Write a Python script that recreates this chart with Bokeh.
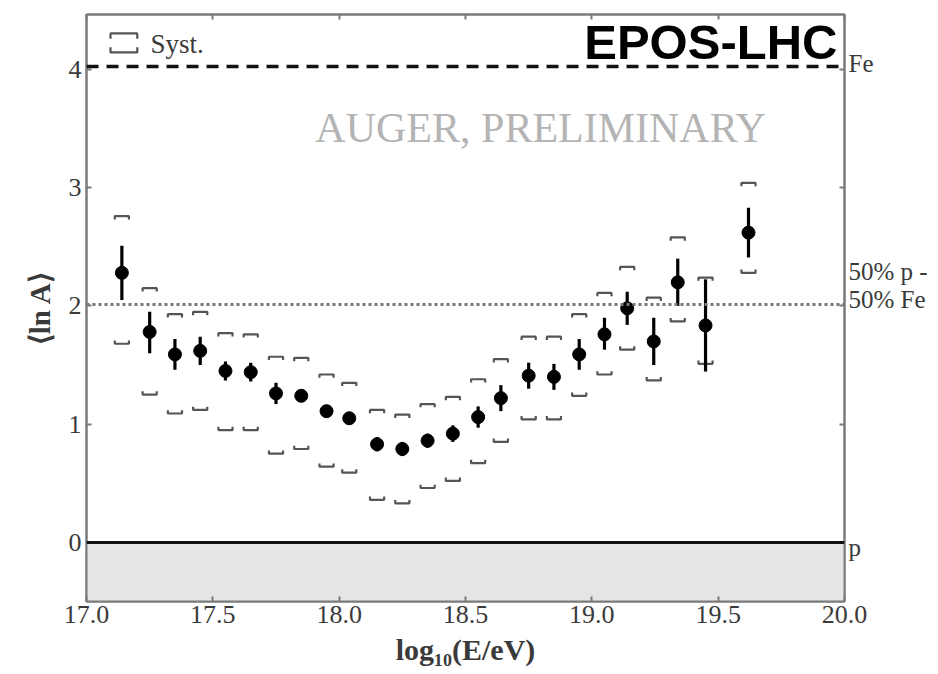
import numpy as np
from bokeh.plotting import figure
from bokeh.models import (Range1d, LinearAxis, FixedTicker, Span, BoxAnnotation,
                          Label, ColumnDataSource, NumeralTickFormatter,
                          CustomLabelingPolicy)
from bokeh.embed import file_html
from bokeh.resources import INLINE

# <ln A> vs energy, EPOS-LHC interpretation
log_e = [17.14, 17.25, 17.35, 17.45, 17.55, 17.65, 17.75, 17.85, 17.95, 18.04,
         18.15, 18.25, 18.35, 18.45, 18.55, 18.64, 18.75, 18.85, 18.95, 19.05,
         19.14, 19.245, 19.34, 19.45, 19.62]
ln_a = [2.28, 1.78, 1.59, 1.62, 1.45, 1.44, 1.26, 1.24, 1.11, 1.05,
        0.83, 0.79, 0.86, 0.92, 1.06, 1.22, 1.41, 1.40, 1.59, 1.76,
        1.98, 1.70, 2.20, 1.835, 2.62]
stat_plus = [0.23, 0.17, 0.13, 0.12, 0.08, 0.08, 0.09, 0.04, 0.04, 0.04,
             0.06, 0.06, 0.06, 0.07, 0.09, 0.11, 0.11, 0.11, 0.13, 0.14,
             0.14, 0.20, 0.20, 0.39, 0.21]
stat_minus = [0.23, 0.18, 0.13, 0.12, 0.08, 0.08, 0.09, 0.04, 0.04, 0.04,
              0.06, 0.06, 0.06, 0.07, 0.09, 0.11, 0.11, 0.11, 0.13, 0.13,
              0.14, 0.20, 0.20, 0.39, 0.21]
syst_hi = [2.76, 2.15, 1.93, 1.95, 1.77, 1.76, 1.57, 1.56, 1.42, 1.35,
           1.12, 1.08, 1.17, 1.23, 1.38, 1.55, 1.74, 1.74, 1.93, 2.11,
           2.33, 2.07, 2.58, 2.24, 3.04]
syst_lo = [1.68, 1.25, 1.09, 1.12, 0.95, 0.95, 0.75, 0.79, 0.64, 0.59,
           0.36, 0.33, 0.46, 0.52, 0.67, 0.85, 1.04, 1.04, 1.24, 1.42,
           1.63, 1.37, 1.87, 1.51, 2.28]

x_ticks = [17.0, 17.5, 18.0, 18.5, 19.0, 19.5, 20.0]
y_ticks = [0, 1, 2, 3, 4]

LN_A_P = 0.0
LN_A_FE = float(np.log(56))
LN_A_MIX = 0.5 * (LN_A_P + LN_A_FE)

# where the composition names sit along the right-hand axis
side_labels = {-0.04: "p", 2.056: "50% Fe", 2.288: "50% p -", 4.05: "Fe"}

SERIF = "Liberation Serif"
AXIS_GREY = "#7a7a7a"
TEXT_GREY = "#3a3a3a"

p = figure(width=938, height=674, output_backend="svg", toolbar_location=None,
           x_range=Range1d(17.0, 20.0), y_range=Range1d(-0.5, 4.465),
           min_border_left=86, min_border_right=94, min_border_top=14,
           min_border_bottom=73)
p.background_fill_color = "white"
p.border_fill_color = "white"
p.outline_line_color = AXIS_GREY
p.outline_line_width = 2
p.xgrid.visible = False
p.ygrid.visible = False

def style_axis(ax, labels=True):
    ax.axis_line_color = AXIS_GREY
    ax.axis_line_width = 2
    ax.major_tick_in = 5
    ax.major_tick_out = 0
    ax.major_tick_line_color = AXIS_GREY
    ax.major_tick_line_width = 2
    ax.minor_tick_line_color = None
    if labels:
        ax.major_label_text_font = SERIF
        ax.major_label_text_font_size = "26px"
        ax.major_label_text_color = TEXT_GREY
    else:
        ax.major_label_text_font_size = "0px"
        ax.major_label_standoff = 0
        ax.major_label_policy = CustomLabelingPolicy(code="return new Set()")

xa = p.xaxis[0]
style_axis(xa)
xa.ticker = FixedTicker(ticks=x_ticks)
xa.formatter = NumeralTickFormatter(format="0.0")
xa.major_label_standoff = 4
xa.axis_label = "log₁₀(E/eV)"
xa.axis_label_text_font = SERIF
xa.axis_label_text_font_style = "bold"
xa.axis_label_text_font_size = "30px"
xa.axis_label_text_color = TEXT_GREY
xa.axis_label_standoff = 7

ya = p.yaxis[0]
style_axis(ya)
ya.ticker = FixedTicker(ticks=y_ticks)
ya.major_label_standoff = 5
ya.axis_label = "⟨ln A⟩"
ya.axis_label_text_font = SERIF
ya.axis_label_text_font_style = "bold"
ya.axis_label_text_font_size = "29px"
ya.axis_label_text_color = TEXT_GREY
ya.axis_label_standoff = 10

top = LinearAxis(ticker=FixedTicker(ticks=x_ticks))
style_axis(top, labels=False)
p.add_layout(top, "above")

# right axis: integer ticks drawn as minor ticks, composition names as labels
right = LinearAxis(ticker=FixedTicker(ticks=list(side_labels.keys()),
                                      minor_ticks=y_ticks))
right.axis_line_color = AXIS_GREY
right.axis_line_width = 2
right.major_tick_line_color = None
right.major_tick_in = 0
right.major_tick_out = 0
right.minor_tick_in = 5
right.minor_tick_out = 0
right.minor_tick_line_color = AXIS_GREY
right.minor_tick_line_width = 2
right.major_label_overrides = side_labels
right.major_label_standoff = 4
right.major_label_text_font = SERIF
right.major_label_text_font_size = "25px"
right.major_label_text_color = TEXT_GREY
p.add_layout(right, "right")

# unphysical region below pure protons
p.add_layout(BoxAnnotation(top=LN_A_P, fill_color="#e5e5e5", fill_alpha=1.0,
                           line_color=None, level="underlay"))
p.add_layout(Span(location=LN_A_P, dimension="width", line_color="#111111",
                  line_width=3))
p.add_layout(Span(location=LN_A_FE, dimension="width", line_color="#111111",
                  line_width=3.5, line_dash="12 8"))
p.add_layout(Span(location=LN_A_MIX, dimension="width", line_color="#777777",
                  line_width=3, line_dash="3 3"))

# systematic brackets
hw, th = 0.028, 0.028
bx, by = [], []
for xv, hi, lo in zip(log_e, syst_hi, syst_lo):
    bx.append([xv - hw, xv - hw, xv + hw, xv + hw])
    by.append([hi - th, hi, hi, hi - th])
    bx.append([xv - hw, xv - hw, xv + hw, xv + hw])
    by.append([lo + th, lo, lo, lo + th])
p.multi_line(bx, by, line_color="#555555", line_width=2.2)

# statistical error bars and points
src = ColumnDataSource(dict(
    x=log_e, y=ln_a,
    top=[v + e for v, e in zip(ln_a, stat_plus)],
    bottom=[v - e for v, e in zip(ln_a, stat_minus)]))
p.segment(x0="x", y0="bottom", x1="x", y1="top", source=src,
          line_color="black", line_width=3.2)
p.scatter(x="x", y="y", source=src, size=13, marker="circle",
          fill_color="black", line_color="black")

# legend for systematics
lx, lyt, lyb, lhw, lth = 17.148, 4.305, 4.144, 0.053, 0.045
p.multi_line([[lx - lhw, lx - lhw, lx + lhw, lx + lhw]] * 2,
             [[lyt - lth, lyt, lyt, lyt - lth], [lyb + lth, lyb, lyb, lyb + lth]],
             line_color="#555555", line_width=2.2)
p.add_layout(Label(x=17.253, y=4.14, y_offset=9, text="Syst.", text_font=SERIF,
                   text_font_size="27px", text_color=TEXT_GREY,
                   text_baseline="alphabetic"))

p.add_layout(Label(x=18.797, y=3.38, y_offset=15, text="AUGER, PRELIMINARY",
                   text_font=SERIF, text_font_size="42px", text_color="#b4b4b4",
                   text_align="center", text_baseline="alphabetic"))
p.add_layout(Label(x=19.972, y=4.076, y_offset=18, text="EPOS-LHC",
                   text_font="Liberation Sans", text_font_style="bold",
                   text_font_size="49px", text_color="black",
                   text_align="right", text_baseline="alphabetic"))

open("out.html", "w").write(file_html(p, INLINE))
